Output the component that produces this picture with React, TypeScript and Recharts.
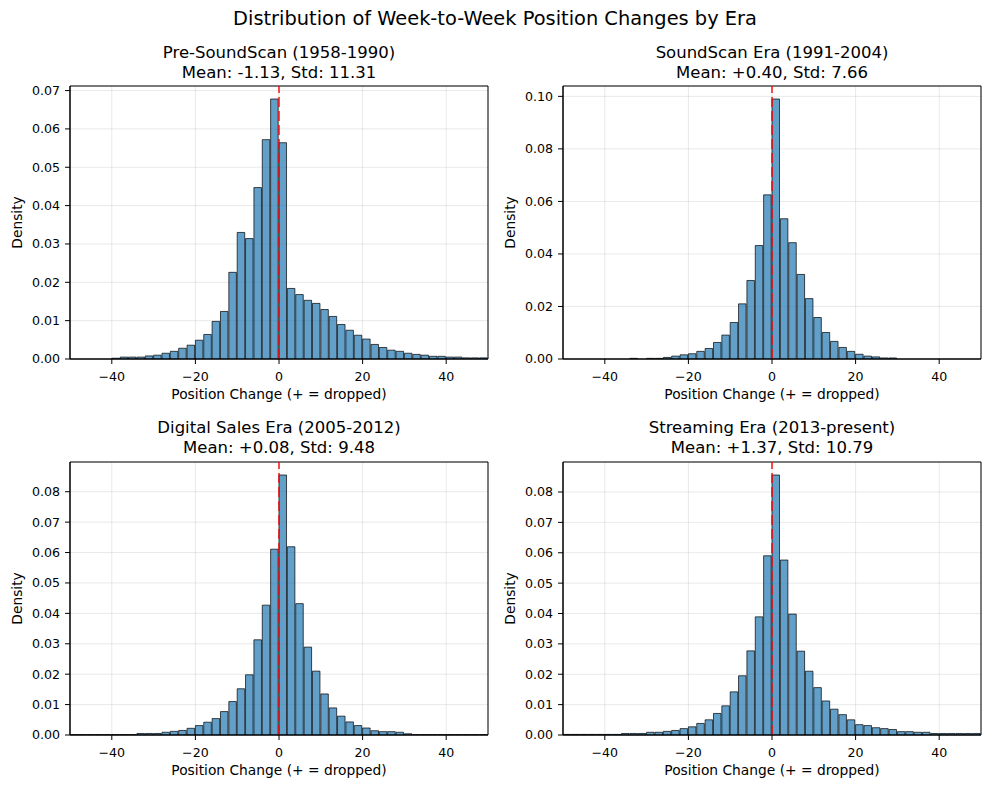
import React from 'react';
import {
  ComposedChart,
  Bar,
  XAxis,
  YAxis,
  CartesianGrid,
  ReferenceLine,
  ReferenceArea,
} from 'recharts';

// ---- Data ----
const binCenters = [
  -49, -47, -45, -43, -41, -39, -37, -35, -33, -31,
  -29, -27, -25, -23, -21, -19, -17, -15, -13, -11,
  -9, -7, -5, -3, -1, 1, 3, 5, 7, 9,
  11, 13, 15, 17, 19, 21, 23, 25, 27, 29,
  31, 33, 35, 37, 39, 41, 43, 45, 47, 49,
];

const preSoundScan = [
  0, 0, 0, 0, 0, 0.0002, 0.0005, 0.0005, 0.0005, 0.0008,
  0.001, 0.0015, 0.002, 0.0028, 0.0036, 0.0049, 0.0064, 0.0098, 0.0124, 0.0226,
  0.033, 0.0314, 0.0447, 0.0572, 0.0678, 0.0564, 0.0184, 0.0168, 0.0153, 0.0145,
  0.0129, 0.0111, 0.009, 0.0075, 0.0062, 0.0052, 0.0038, 0.003, 0.0023, 0.002,
  0.0015, 0.0012, 0.001, 0.0007, 0.0007, 0.0005, 0.0005, 0.0003, 0.0003, 0.0003,
];

const soundScanEra = [
  0, 0, 0, 0, 0, 0, 0, 0, 0.00025, 0,
  0.00025, 0.00025, 0.0006, 0.0011, 0.0016, 0.002, 0.0029, 0.004, 0.0063, 0.0091,
  0.0139, 0.021, 0.0299, 0.0432, 0.0625, 0.099, 0.0534, 0.0443, 0.0322, 0.023,
  0.0158, 0.0101, 0.0067, 0.0044, 0.0029, 0.0018, 0.0011, 0.0008, 0.0004, 0.0004,
  0, 0, 0, 0, 0, 0, 0, 0, 0, 0,
];

const digitalSalesEra = [
  0.0001, 0.0001, 0.0001, 0.0001, 0.0001, 0.0001, 0.0001, 0.0001, 0.0005, 0.0005,
  0.0005, 0.0009, 0.0012, 0.0015, 0.0022, 0.0031, 0.0042, 0.0054, 0.0077, 0.011,
  0.0152, 0.0198, 0.0313, 0.0427, 0.0611, 0.0855, 0.0619, 0.0432, 0.0289, 0.021,
  0.0135, 0.0089, 0.0062, 0.0043, 0.0031, 0.0023, 0.0014, 0.0011, 0.0011, 0.0009,
  0.0004, 0.0001, 0.0001, 0.0001, 0.0001, 0.0001, 0.0001, 0.0001, 0.0001, 0.0001,
];

const streamingEra = [
  0.0002, 0.0002, 0.0002, 0.0002, 0.0002, 0.0002, 0.0002, 0.0005, 0.0005, 0.0005,
  0.0009, 0.0009, 0.0012, 0.0015, 0.0021, 0.0027, 0.0038, 0.005, 0.0071, 0.0096,
  0.0142, 0.0195, 0.0277, 0.0389, 0.059, 0.0856, 0.0576, 0.0398, 0.0276, 0.021,
  0.0156, 0.0112, 0.0085, 0.0067, 0.005, 0.0034, 0.0031, 0.0024, 0.0021, 0.0018,
  0.0011, 0.0011, 0.0009, 0.0009, 0.0005, 0.0005, 0.0005, 0.0005, 0.0005, 0.0005,
];

const xTicks = [-40, -20, 0, 20, 40];
const yTicksPre = [0, 0.01, 0.02, 0.03, 0.04, 0.05, 0.06, 0.07];
const yTicksSoundScan = [0, 0.02, 0.04, 0.06, 0.08, 0.1];
const yTicksLater = [0, 0.01, 0.02, 0.03, 0.04, 0.05, 0.06, 0.07, 0.08];

const eraTitles = [
  'Pre-SoundScan (1958-1990)',
  'SoundScan Era (1991-2004)',
  'Digital Sales Era (2005-2012)',
  'Streaming Era (2013-present)',
];
const eraStats = [
  'Mean: -1.13, Std: 11.31',
  'Mean: +0.40, Std: 7.66',
  'Mean: +0.08, Std: 9.48',
  'Mean: +1.37, Std: 10.79',
];
const suptitle = 'Distribution of Week-to-Week Position Changes by Era';
const xLabel = 'Position Change (+ = dropped)';
const yLabel = 'Density';

// ---- Layout ----
const FONT = '"DejaVu Sans", "Liberation Sans", sans-serif';
const AX_W = 418;
const AX_H = 273;
const M_TOP = 10;
const M_RIGHT = 10;
const Y_AXIS_W = 60;
const M_LEFT = 10;
const X_AXIS_H = 30;
const M_BOTTOM = 20;

const fmtX = (v: number) => (v < 0 ? '\u2212' + Math.abs(v) : String(v));
const fmtY = (v: number) => v.toFixed(2);

type PanelProps = {
  values: number[];
  yTicks: number[];
  axLeft: number;
  axTop: number;
};

function Panel({ values, yTicks, axLeft, axTop }: PanelProps) {
  const data = binCenters.map((c, i) => ({ c, d: values[i] }));
  const ymax = Math.max(...values) * 1.05;
  const W = M_LEFT + Y_AXIS_W + AX_W + M_RIGHT;
  const H = M_TOP + AX_H + X_AXIS_H + M_BOTTOM;
  const yLabelContent = () => {
    const cx = 17;
    const cy = M_TOP + AX_H / 2;
    return (
      <text
        x={cx}
        y={cy}
        transform={`rotate(-90 ${cx} ${cy})`}
        textAnchor="middle"
        dominantBaseline="central"
        fontSize={13.8}
        fill="#000"
      >
        {yLabel}
      </text>
    );
  };
  return (
    <div
      style={{
        position: 'absolute',
        left: axLeft - M_LEFT - Y_AXIS_W,
        top: axTop - M_TOP,
        width: W,
        height: H,
      }}
    >
      <ComposedChart
        width={W}
        height={H}
        data={data}
        margin={{ top: M_TOP, right: M_RIGHT, left: M_LEFT, bottom: M_BOTTOM }}
        barCategoryGap={0}
        barGap={0}
      >
        <CartesianGrid
          xAxisId="num"
          stroke="#b0b0b0"
          strokeOpacity={0.35}
          strokeWidth={0.8}
        />
        <XAxis
          xAxisId="num"
          dataKey="c"
          type="number"
          domain={[-50, 50]}
          ticks={xTicks}
          allowDataOverflow
          height={X_AXIS_H}
          tickSize={5}
          tickMargin={8}
          stroke="#000"
          tick={{ fill: '#000', fontSize: 12.6 }}
          tickFormatter={fmtX}
          label={{
            value: xLabel,
            position: 'bottom',
            offset: 0,
            fill: '#000',
            fontSize: 13.8,
          }}
        />
        <XAxis xAxisId="cat" dataKey="c" type="category" hide height={0} />
        <YAxis
          type="number"
          domain={[0, ymax]}
          ticks={yTicks}
          allowDataOverflow
          width={Y_AXIS_W}
          tickSize={5}
          tickMargin={5}
          stroke="#000"
          tick={{ fill: '#000', fontSize: 12.6 }}
          tickFormatter={fmtY}
          label={{ content: yLabelContent }}
        />
        <Bar
          xAxisId="cat"
          dataKey="d"
          barSize={AX_W / binCenters.length}
          fill="#1f77b4"
          fillOpacity={0.7}
          stroke="#000"
          strokeOpacity={0.7}
          strokeWidth={1}
          isAnimationActive={false}
        />
        <ReferenceLine
          xAxisId="num"
          x={0}
          stroke="#ff0000"
          strokeOpacity={0.7}
          strokeWidth={2}
          strokeDasharray="10 4"
        />
        <ReferenceArea
          xAxisId="num"
          x1={-50}
          x2={50}
          y1={0}
          y2={ymax}
          fill="none"
          fillOpacity={0}
          stroke="#000"
          strokeOpacity={1}
          strokeWidth={1}
        />
      </ComposedChart>
    </div>
  );
}

const panelSeries = [preSoundScan, soundScanEra, digitalSalesEra, streamingEra];
const panelTicks = [yTicksPre, yTicksSoundScan, yTicksLater, yTicksLater];
const panelLefts = [70, 563, 70, 563];
const panelTops = [86, 86, 461.5, 461.5];

export default function App() {
  return (
    <div
      style={{
        position: 'absolute',
        left: 0,
        top: 0,
        width: 990,
        height: 788,
        background: '#fff',
        fontFamily: FONT,
        overflow: 'hidden',
      }}
    >
      {panelSeries.map((vals, i) => (
        <Panel
          key={i}
          values={vals}
          yTicks={panelTicks[i]}
          axLeft={panelLefts[i]}
          axTop={panelTops[i]}
        />
      ))}
      <svg
        width={990}
        height={788}
        style={{ position: 'absolute', left: 0, top: 0, pointerEvents: 'none' }}
      >
        <text x={495} y={25} textAnchor="middle" fontSize={19.4} fill="#000">
          {suptitle}
        </text>
        {eraTitles.map((t, i) => {
          const cx = panelLefts[i] + AX_W / 2;
          const base = panelTops[i] - 28.5;
          return (
            <g key={t}>
              <text x={cx} y={base} textAnchor="middle" fontSize={16.5} fill="#000">
                {t}
              </text>
              <text x={cx} y={base + 20} textAnchor="middle" fontSize={16.5} fill="#000">
                {eraStats[i]}
              </text>
            </g>
          );
        })}
      </svg>
    </div>
  );
}
